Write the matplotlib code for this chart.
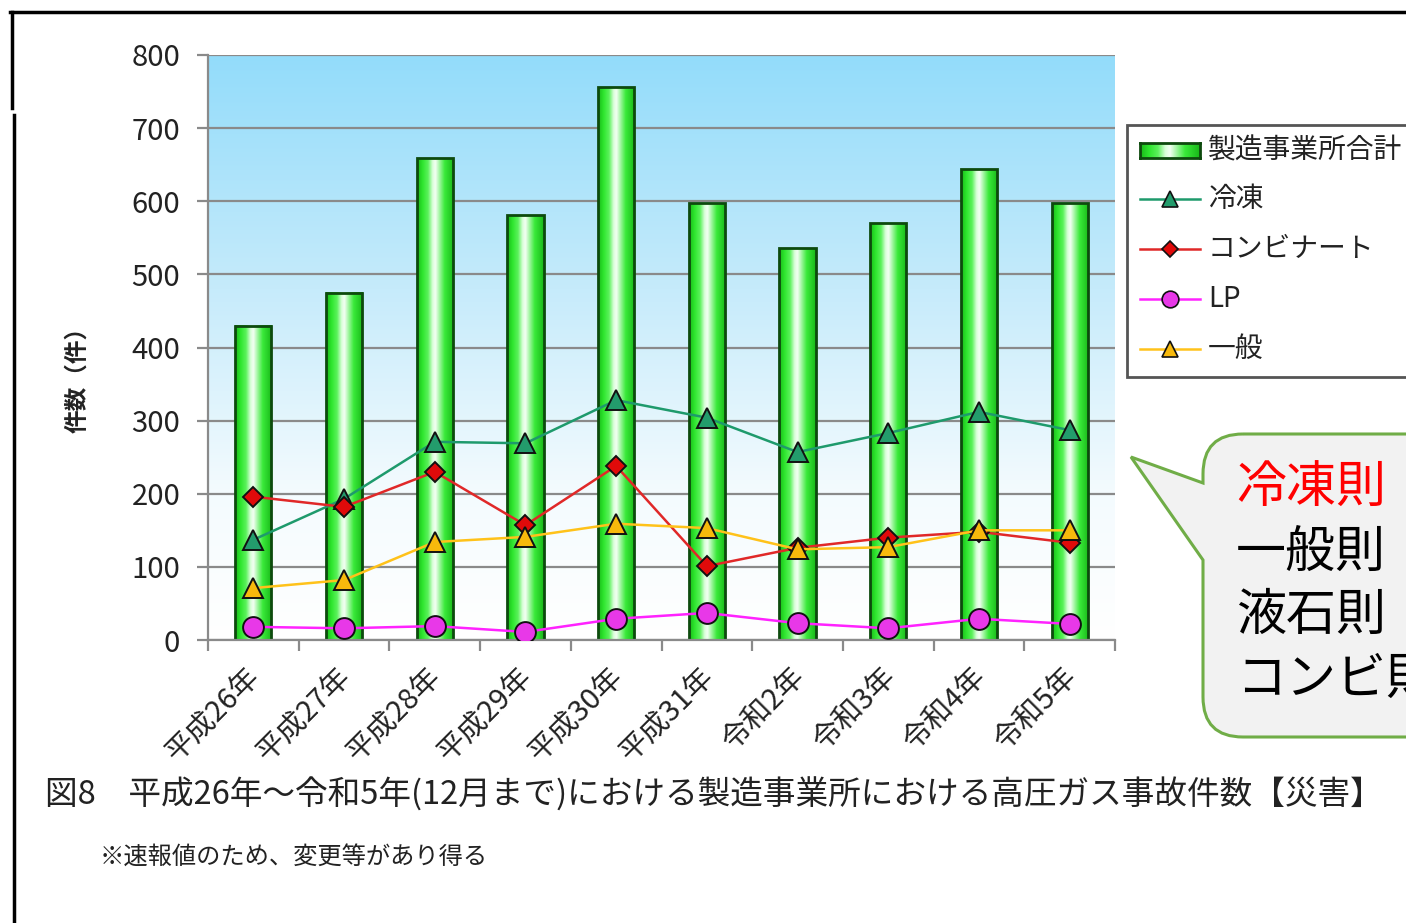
import numpy as np
import matplotlib
matplotlib.use('Agg')
import matplotlib.pyplot as plt
import matplotlib.transforms as mtransforms
from matplotlib.path import Path
from matplotlib.patches import PathPatch, Rectangle
from matplotlib.lines import Line2D
from matplotlib.colors import LinearSegmentedColormap

plt.rcParams['font.family'] = ['Noto Sans CJK JP', 'DejaVu Sans']

# ---------------- data ----------------
categories = ['平成26年', '平成27年', '平成28年', '平成29年', '平成30年',
              '平成31年', '令和2年', '令和3年', '令和4年', '令和5年']
total = [430, 475, 659, 581, 756, 597, 536, 570, 644, 597]
reitou = [137, 193, 271, 269, 328, 304, 257, 283, 312, 287]
combinat = [196, 182, 230, 157, 238, 101, 126, 140, 148, 133]
lp = [18, 16, 19, 11, 29, 37, 23, 16, 29, 22]
ippan = [71, 82, 134, 141, 159, 153, 124, 127, 150, 150]
yticks = [0, 100, 200, 300, 400, 500, 600, 700, 800]
legend_labels = ['製造事業所合計', '冷凍', 'コンビナート', 'LP', '一般']
callout_lines = ['冷凍則', '一般則', '液石則', 'コンビ則']
callout_colors = ['#ff0000', '#000000', '#000000', '#000000']
title = '図8　平成26年～令和5年(12月まで)における製造事業所における高圧ガス事故件数【災害】'
note = '※速報値のため、変更等があり得る'
ylabel = '件数（件）'

W, H = 1406, 923
fig = plt.figure(figsize=(W / 100, H / 100), dpi=100)
fig.patch.set_facecolor('white')


def px(x, y):
    return (x / W, 1 - y / H)


ax = fig.add_axes([208 / W, 1 - 640 / H, (1115 - 208) / W, (640 - 55) / H])
ax.set_xlim(-0.5, len(categories) - 0.5)
ax.set_ylim(0, 800)

# background gradient
bg_cmap = LinearSegmentedColormap.from_list('bg', [(0, '#ffffff'), (0.25, '#f4fbfe'),
                                                   (0.6, '#c6ebfb'), (1, '#93dcfa')])
bg = np.linspace(0, 1, 256).reshape(-1, 1)
ax.imshow(bg, cmap=bg_cmap, extent=(-0.5, len(categories) - 0.5, 0, 800),
          origin='lower', aspect='auto', zorder=0)

ax.set_yticks(yticks)
ax.yaxis.grid(True, color='#8a8a8a', lw=1.6, zorder=0.5)
ax.set_axisbelow(True)

# bars with gradient
bar_cmap = LinearSegmentedColormap.from_list('bar', [
    (0, '#18b818'), (0.15, '#2ee62e'), (0.3, '#5cf25c'), (0.42, '#d8ffd8'),
    (0.5, '#f4fff4'), (0.6, '#a8f7a8'), (0.75, '#3aea3a'), (1, '#18b818')])
grad = np.linspace(0, 1, 256).reshape(1, -1)
bw = 0.40
for i, v in enumerate(total):
    ax.imshow(grad, cmap=bar_cmap, extent=(i - bw / 2, i + bw / 2, 0, v),
              aspect='auto', zorder=2, interpolation='bilinear')
    ax.add_patch(Rectangle((i - bw / 2, 0), bw, v, facecolor='none',
                           edgecolor='#0d4a0d', lw=2, zorder=2.5))
ax.set_xlim(-0.5, len(categories) - 0.5)
ax.set_ylim(0, 800)

x = np.arange(len(categories))
series = [
    (reitou, '#1e9a6c', '#239c6c', '^', 15),
    (combinat, '#e02828', '#e00a0a', 'D', 10),
    (lp, '#ff22ff', '#e838e8', 'o', 15),
    (ippan, '#ffc21a', '#f7b90c', '^', 15),
]
order = [2, 0, 3, 1]
for k in order:
    vals, lc, mc, mk, ms = series[k]
    ax.plot(x, vals, color=lc, lw=1.8, marker=mk, ms=ms, mfc=mc, mec='#111111',
            mew=1.4, zorder=3 + k * 0.1)

# axes styling
for s in ['top', 'right']:
    ax.spines[s].set_visible(False)
for s in ['left', 'bottom']:
    ax.spines[s].set_color('#8a8a8a')
    ax.spines[s].set_linewidth(1.6)
ax.tick_params(axis='y', length=8, width=1.6, color='#8a8a8a', labelsize=21,
               labelcolor='#222222', pad=12)
ax.set_xticks(x)
ax.set_xticklabels(categories, rotation=45, ha='right', va='top',
                   rotation_mode='anchor', fontsize=21, color='#222222')
ax.tick_params(axis='x', which='major', length=0, pad=16)
shift = mtransforms.ScaledTranslation(-8 / 100, 0, fig.dpi_scale_trans)
for lab in ax.get_xticklabels():
    lab.set_transform(lab.get_transform() + shift)
ax.set_xticks(np.arange(-0.5, len(categories), 1), minor=True)
ax.tick_params(axis='x', which='minor', length=8, width=1.6, color='#8a8a8a')

fig.text(*px(77, 374), ylabel, rotation=90, ha='center', va='center',
         fontsize=17, color='#222222', fontweight='bold')

# title and note
fig.text(*px(45, 795), title, ha='left', va='center', fontsize=23.5, color='#222222')
fig.text(*px(100, 857), note, ha='left', va='center', fontsize=17.5, color='#222222')

# outer frame lines
fig.add_artist(Line2D([px(10, 12)[0], 1], [px(10, 12)[1]] * 2, color='black', lw=2.5))
fig.add_artist(Line2D([px(12, 0)[0]] * 2, [px(0, 12)[1], px(0, 108)[1]], color='black', lw=2.5))
fig.add_artist(Line2D([px(14, 0)[0]] * 2, [px(0, 115)[1], 0], color='black', lw=2.5))

# legend (manual)
fig.add_artist(Rectangle(px(1127, 377), (1450 - 1127) / W, (377 - 125) / H,
                         transform=fig.transFigure, facecolor='white',
                         edgecolor='#555555', lw=2, zorder=0.2))
lax = fig.add_axes([1140 / W, 1 - 158 / H, 60 / W, 15 / H])
lax.set_zorder(5)
lax.imshow(grad, cmap=bar_cmap, aspect='auto', extent=(0, 1, 0, 1))
lax.set_xticks([])
lax.set_yticks([])
for s in lax.spines.values():
    s.set_color('#0d4a0d')
    s.set_linewidth(2)
fig.text(*px(1208, 150), legend_labels[0], ha='left', va='center', fontsize=20, color='#222222')
rows_y = [199, 249, 299, 349]
for (vals, lc, mc, mk, ms), yy, lab in zip(series, rows_y, legend_labels[1:]):
    fig.add_artist(Line2D([1140 / W, 1200 / W], [1 - yy / H] * 2, color=lc, lw=1.8))
    fig.add_artist(Line2D([1170 / W], [1 - yy / H], marker=mk, ms=ms * 0.8, mfc=mc,
                          mec='#111111', mew=1.2, lw=0))
    fig.text(*px(1208, yy), lab, ha='left', va='center', fontsize=20, color='#222222')

# callout
r = 40
x0, x1, y0, y1 = 1203, 1480, 434, 737
verts = [
    (x0 + r, y0), (x1, y0), (x1, y1), (x0 + r, y1),
    (x0, y1), (x0, y1 - r),
    (x0, 560), (1131, 457), (x0, 483),
    (x0, y0 + r), (x0, y0), (x0 + r, y0),
]
codes = [Path.MOVETO, Path.LINETO, Path.LINETO, Path.LINETO,
         Path.CURVE3, Path.CURVE3,
         Path.LINETO, Path.LINETO, Path.LINETO,
         Path.LINETO, Path.CURVE3, Path.CURVE3]
verts_f = [px(a, b) for a, b in verts]
fig.add_artist(PathPatch(Path(verts_f, codes), transform=fig.transFigure,
                         facecolor='#f2f2f2', edgecolor='#70ad47', lw=2.2))
for i, (t, c) in enumerate(zip(callout_lines, callout_colors)):
    fig.text(*px(1236, 489 + i * 63.5), t, ha='left', va='center', fontsize=36, color=c)

fig.savefig('out.png', dpi=100)
